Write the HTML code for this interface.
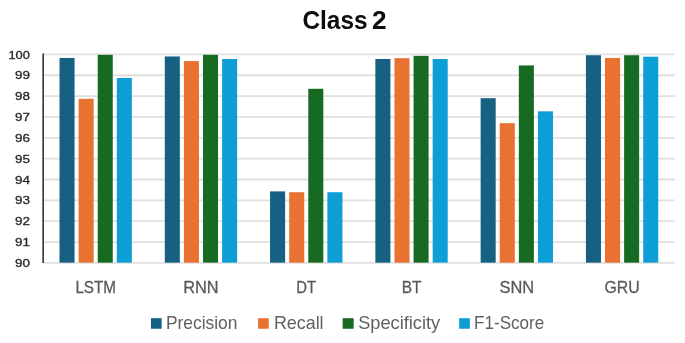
<!DOCTYPE html>
<html><head><meta charset="utf-8"><title>Class 2</title>
<style>
html,body{margin:0;padding:0;background:#fff;}
body{width:685px;height:343px;overflow:hidden;font-family:"Liberation Sans",sans-serif;}
svg{display:block;}
text{font-family:"Liberation Sans",sans-serif;}
</style></head><body>
<svg width="685" height="343" viewBox="0 0 685 343">
<rect width="685" height="343" fill="#ffffff"/>
<defs><filter id="soft" x="0" y="0" width="685" height="343" filterUnits="userSpaceOnUse"><feGaussianBlur stdDeviation="0.5"/></filter></defs>
<g filter="url(#soft)">
<rect width="685" height="343" fill="#ffffff"/>
<line x1="43.05" x2="674.8" y1="54.40" y2="54.40" stroke="#e0e0e0" stroke-width="1.8"/>
<line x1="43.05" x2="674.8" y1="75.25" y2="75.25" stroke="#e0e0e0" stroke-width="1.8"/>
<line x1="43.05" x2="674.8" y1="96.10" y2="96.10" stroke="#e0e0e0" stroke-width="1.8"/>
<line x1="43.05" x2="674.8" y1="116.95" y2="116.95" stroke="#e0e0e0" stroke-width="1.8"/>
<line x1="43.05" x2="674.8" y1="137.80" y2="137.80" stroke="#e0e0e0" stroke-width="1.8"/>
<line x1="43.05" x2="674.8" y1="158.65" y2="158.65" stroke="#e0e0e0" stroke-width="1.8"/>
<line x1="43.05" x2="674.8" y1="179.50" y2="179.50" stroke="#e0e0e0" stroke-width="1.8"/>
<line x1="43.05" x2="674.8" y1="200.35" y2="200.35" stroke="#e0e0e0" stroke-width="1.8"/>
<line x1="43.05" x2="674.8" y1="221.20" y2="221.20" stroke="#e0e0e0" stroke-width="1.8"/>
<line x1="43.05" x2="674.8" y1="242.05" y2="242.05" stroke="#e0e0e0" stroke-width="1.8"/>
<line x1="43.05" x2="674.8" y1="262.90" y2="262.90" stroke="#e0e0e0" stroke-width="1.8"/>
<rect x="59.52" y="57.94" width="15.04" height="204.71" fill="#156082"/>
<rect x="78.62" y="98.81" width="15.04" height="163.84" fill="#E97132"/>
<rect x="97.72" y="54.82" width="15.04" height="207.83" fill="#196B24"/>
<rect x="116.82" y="77.96" width="15.04" height="184.69" fill="#0F9ED5"/>
<rect x="164.80" y="56.48" width="15.04" height="206.17" fill="#156082"/>
<rect x="183.90" y="61.07" width="15.04" height="201.58" fill="#E97132"/>
<rect x="203.00" y="54.82" width="15.04" height="207.83" fill="#196B24"/>
<rect x="222.10" y="58.99" width="15.04" height="203.66" fill="#0F9ED5"/>
<rect x="270.08" y="191.38" width="15.04" height="71.27" fill="#156082"/>
<rect x="289.18" y="192.22" width="15.04" height="70.43" fill="#E97132"/>
<rect x="308.28" y="88.80" width="15.04" height="173.85" fill="#196B24"/>
<rect x="327.38" y="192.22" width="15.04" height="70.43" fill="#0F9ED5"/>
<rect x="375.36" y="58.99" width="15.04" height="203.66" fill="#156082"/>
<rect x="394.46" y="58.15" width="15.04" height="204.50" fill="#E97132"/>
<rect x="413.56" y="55.86" width="15.04" height="206.79" fill="#196B24"/>
<rect x="432.66" y="58.99" width="15.04" height="203.66" fill="#0F9ED5"/>
<rect x="480.64" y="98.18" width="15.04" height="164.47" fill="#156082"/>
<rect x="499.74" y="123.20" width="15.04" height="139.45" fill="#E97132"/>
<rect x="518.84" y="65.45" width="15.04" height="197.20" fill="#196B24"/>
<rect x="537.94" y="111.32" width="15.04" height="151.33" fill="#0F9ED5"/>
<rect x="585.92" y="55.23" width="15.04" height="207.42" fill="#156082"/>
<rect x="605.02" y="57.94" width="15.04" height="204.71" fill="#E97132"/>
<rect x="624.12" y="55.23" width="15.04" height="207.42" fill="#196B24"/>
<rect x="643.22" y="56.69" width="15.04" height="205.96" fill="#0F9ED5"/>
<line x1="43.15" x2="43.15" y1="53.6" y2="263.0" stroke="#262626" stroke-width="1.5"/>
<text x="29.9" y="58.50" font-size="11.7" text-anchor="end" fill="#262626" stroke="#262626" stroke-width="0.3" textLength="21.5" lengthAdjust="spacingAndGlyphs">100</text>
<text x="29.9" y="79.35" font-size="11.7" text-anchor="end" fill="#262626" stroke="#262626" stroke-width="0.3" textLength="15.0" lengthAdjust="spacingAndGlyphs">99</text>
<text x="29.9" y="100.20" font-size="11.7" text-anchor="end" fill="#262626" stroke="#262626" stroke-width="0.3" textLength="15.0" lengthAdjust="spacingAndGlyphs">98</text>
<text x="29.9" y="121.05" font-size="11.7" text-anchor="end" fill="#262626" stroke="#262626" stroke-width="0.3" textLength="15.0" lengthAdjust="spacingAndGlyphs">97</text>
<text x="29.9" y="141.90" font-size="11.7" text-anchor="end" fill="#262626" stroke="#262626" stroke-width="0.3" textLength="15.0" lengthAdjust="spacingAndGlyphs">96</text>
<text x="29.9" y="162.75" font-size="11.7" text-anchor="end" fill="#262626" stroke="#262626" stroke-width="0.3" textLength="15.0" lengthAdjust="spacingAndGlyphs">95</text>
<text x="29.9" y="183.60" font-size="11.7" text-anchor="end" fill="#262626" stroke="#262626" stroke-width="0.3" textLength="15.0" lengthAdjust="spacingAndGlyphs">94</text>
<text x="29.9" y="204.45" font-size="11.7" text-anchor="end" fill="#262626" stroke="#262626" stroke-width="0.3" textLength="15.0" lengthAdjust="spacingAndGlyphs">93</text>
<text x="29.9" y="225.30" font-size="11.7" text-anchor="end" fill="#262626" stroke="#262626" stroke-width="0.3" textLength="15.0" lengthAdjust="spacingAndGlyphs">92</text>
<text x="29.9" y="246.15" font-size="11.7" text-anchor="end" fill="#262626" stroke="#262626" stroke-width="0.3" textLength="15.0" lengthAdjust="spacingAndGlyphs">91</text>
<text x="29.9" y="267.00" font-size="11.7" text-anchor="end" fill="#262626" stroke="#262626" stroke-width="0.3" textLength="15.0" lengthAdjust="spacingAndGlyphs">90</text>
<text x="95.69" y="292.7" font-size="17.3" text-anchor="middle" fill="#595959" stroke="#595959" stroke-width="0.3" textLength="40.6" lengthAdjust="spacingAndGlyphs">LSTM</text>
<text x="200.97" y="292.7" font-size="17.3" text-anchor="middle" fill="#595959" stroke="#595959" stroke-width="0.3" textLength="35.4" lengthAdjust="spacingAndGlyphs">RNN</text>
<text x="306.25" y="292.7" font-size="17.3" text-anchor="middle" fill="#595959" stroke="#595959" stroke-width="0.3" textLength="19.8" lengthAdjust="spacingAndGlyphs">DT</text>
<text x="411.53" y="292.7" font-size="17.3" text-anchor="middle" fill="#595959" stroke="#595959" stroke-width="0.3" textLength="19.8" lengthAdjust="spacingAndGlyphs">BT</text>
<text x="516.81" y="292.7" font-size="17.3" text-anchor="middle" fill="#595959" stroke="#595959" stroke-width="0.3" textLength="34.6" lengthAdjust="spacingAndGlyphs">SNN</text>
<text x="622.09" y="292.7" font-size="17.3" text-anchor="middle" fill="#595959" stroke="#595959" stroke-width="0.3" textLength="35.2" lengthAdjust="spacingAndGlyphs">GRU</text>
<text x="302.4" y="28.9" font-size="26" font-weight="bold" fill="#0d0d0d" textLength="65.2" lengthAdjust="spacingAndGlyphs">Class</text>
<text x="371.9" y="28.9" font-size="26" font-weight="bold" fill="#0d0d0d" textLength="14.6" lengthAdjust="spacingAndGlyphs">2</text>
<rect x="150.95" y="318.2" width="10.7" height="10.55" fill="#156082"/>
<text x="165.9" y="328.85" font-size="17.8" fill="#616161" textLength="71.5" lengthAdjust="spacingAndGlyphs">Precision</text>
<rect x="258.05" y="318.2" width="10.7" height="10.55" fill="#E97132"/>
<text x="273.9" y="328.85" font-size="17.8" fill="#616161" textLength="49.7" lengthAdjust="spacingAndGlyphs">Recall</text>
<rect x="342.65" y="318.2" width="11.0" height="10.55" fill="#196B24"/>
<text x="358.2" y="328.85" font-size="17.8" fill="#616161" textLength="81.9" lengthAdjust="spacingAndGlyphs">Specificity</text>
<rect x="459.15" y="318.2" width="10.7" height="10.55" fill="#0F9ED5"/>
<text x="474.1" y="328.85" font-size="17.8" fill="#616161" textLength="70.1" lengthAdjust="spacingAndGlyphs">F1-Score</text>
</g>
</svg>
</body></html>
